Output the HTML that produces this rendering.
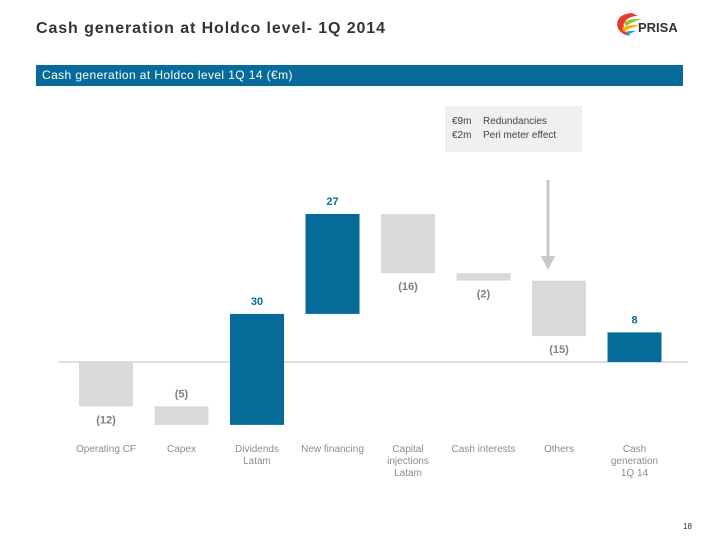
<!DOCTYPE html>
<html><head><meta charset="utf-8"><style>
body{margin:0;width:720px;height:540px;background:#fff;font-family:"Liberation Sans",sans-serif;position:relative;overflow:hidden}
.abs{position:absolute}
</style></head><body>
<div class="abs" style="left:36px;top:20px;font-size:16px;font-weight:bold;color:#333;letter-spacing:0.9px">Cash generation at Holdco level- 1Q 2014</div>
<div class="abs" style="left:614px;top:10px;width:72px;height:28px">
 <svg width="72" height="28"><path d="M18 3 Q4 4 3 14 Q4 24 16 26 Q8 20 10 13 Q14 6 24 6Z" fill="#e63b2e"/><path d="M10 13 Q14 8 28 9 Q18 12 12 16Z" fill="#8dc63f"/><path d="M8 18 Q14 14 26 15 Q16 18 10 22Z" fill="#f7b500"/><path d="M12 22 Q16 20 22 21 Q16 23 14 26Z" fill="#2a9fd6"/></svg>
 <span class="abs" style="left:24px;top:10px;font-size:13px;font-weight:bold;color:#333">PRISA</span>
</div>
<div class="abs" style="left:36px;top:65px;width:647px;height:21px;background:#066b99;color:#fff;font-size:12px;line-height:21px;text-indent:6px;letter-spacing:0.4px">Cash generation at Holdco level 1Q 14 (€m)</div>
<div class="abs" style="left:445px;top:106px;width:137px;height:46px;background:#f0f0f0;font-size:10px;color:#444;line-height:14px;padding-top:9px;box-sizing:border-box">
 <div style="padding-left:7px"><span style="display:inline-block;width:31px">€9m</span>Redundancies</div>
 <div style="padding-left:7px"><span style="display:inline-block;width:31px">€2m</span>Peri meter effect</div>
</div>
<svg class="abs" style="left:0;top:0" width="720" height="540" id="chart"></svg>
<div class="abs" style="left:683px;top:522px;font-size:8px;color:#333">18</div>
<script>
const categories=["Operating CF","Capex","Dividends\nLatam","New financing","Capital\ninjections\nLatam","Cash interests","Others","Cash\ngeneration\n1Q 14"];
const values=[-12,-5,30,27,-16,-2,-15,8];
const labels=["(12)","(5)","30","27","(16)","(2)","(15)","8"];
const isTotal=[false,false,false,false,false,false,false,true];
const labelSide=["below","above","above","above","below","below","below","above"];
const svg=document.getElementById('chart');
const NS="http://www.w3.org/2000/svg";
const baseY=362,scale=3.7,x0=106,step=75.5,bw=54;
const y=v=>baseY-v*scale;
const xc=i=>x0+i*step;
function mk(t,a){const e=document.createElementNS(NS,t);for(const k in a)e.setAttribute(k,a[k]);svg.appendChild(e);return e;}
const ax=mk('line',{x1:58,x2:688,y1:baseY,y2:baseY,stroke:'#bbb','stroke-width':1});


let run=0;
values.forEach((v,i)=>{
 let a,b;
 if(isTotal[i]){a=0;b=v;}else{a=run;b=run+v;run=b;}
 const top=Math.max(a,b),bot=Math.min(a,b);
 const blue=v>0;
 const r=mk('rect',{x:xc(i)-bw/2,y:y(top),width:bw,height:(top-bot)*scale,fill:blue?'#066b99':'#d9d9d9'});
 
 
 const ly=labelSide[i]==='above'?y(top)-9:y(bot)+17;
 const t=mk('text',{x:xc(i),y:ly,'text-anchor':'middle','font-size':11,'font-weight':'bold',fill:blue?'#066b99':'#7f7f7f'});
 t.textContent=labels[i];
 
 
 const c=mk('text',{x:xc(i),'text-anchor':'middle','font-size':10,fill:'#8c8c8c'});
 categories[i].split('\n').forEach((ln,j)=>{const s=document.createElementNS(NS,'tspan');s.setAttribute('x',xc(i));s.setAttribute('y',452+j*12);s.textContent=ln;c.appendChild(s);});
 
 
});
const ar=mk('line',{x1:548,x2:548,y1:180,y2:258,stroke:'#c8c8c8','stroke-width':3});


const ah=mk('polygon',{points:'541,256 555,256 548,270',fill:'#c8c8c8'});


</script>
</body></html>
